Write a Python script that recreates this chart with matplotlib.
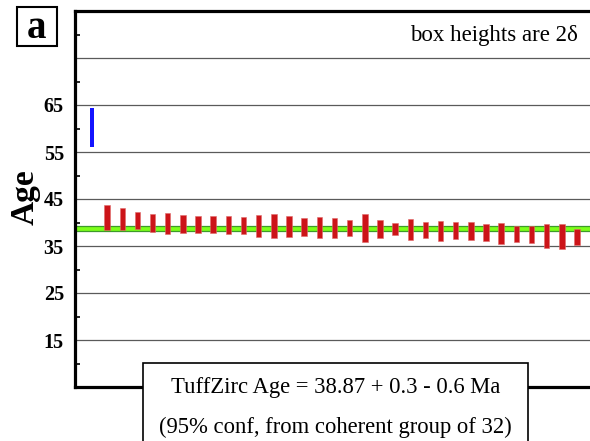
import matplotlib
matplotlib.use("Agg")
import matplotlib.pyplot as plt
from matplotlib.patches import Rectangle

plt.rcParams["font.family"] = ["Liberation Serif", "DejaVu Serif"]

# grain ages (Ma), box = +/- 1 delta
outlier_low = [56.0]
outlier_high = [64.3]

age_low = [38.5, 38.3, 38.7, 37.9, 37.6, 37.8, 37.7, 37.7, 37.5, 37.5, 37.0, 36.6,
           37.0, 37.2, 36.8, 36.8, 37.2, 35.8, 36.8, 37.4, 36.3, 36.6, 36.1, 36.4,
           36.2, 36.0, 35.4, 35.8, 35.6, 34.6, 34.4, 35.3]
age_high = [43.8, 43.0, 42.3, 41.8, 42.0, 41.5, 41.4, 41.4, 41.3, 41.2, 41.5, 41.8,
            41.3, 41.0, 41.1, 41.05, 40.6, 41.8, 40.5, 39.9, 40.8, 40.1, 40.4, 40.2,
            40.1, 39.6, 40.0, 39.2, 39.2, 39.6, 39.6, 38.7]

tuff_age = 38.87
err_plus = 0.3
err_minus = 0.6

major_ticks = [15, 25, 35, 45, 55, 65, 75]
major_labels = ["15", "25", "35", "45", "55", "65", ""]
minor_ticks = [10, 20, 30, 40, 50, 60, 70, 80]

fig = plt.figure(figsize=(5.9, 4.41), dpi=100)
ax = fig.add_axes([75 / 590, 1 - 387 / 441, 1 - 75 / 590 + 0.01, (387 - 11) / 441])

ax.axhspan(tuff_age - err_minus, tuff_age + err_plus, facecolor="#7dff1a",
           edgecolor="#3d9a2a", lw=0.9, zorder=2)

x_out = [1]
ax.bar(x_out, [h - l for l, h in zip(outlier_low, outlier_high)], bottom=outlier_low,
       width=0.24, color="#1414ff", zorder=3)

x_red = list(range(2, 2 + len(age_low)))
ax.bar(x_red, [h - l for l, h in zip(age_low, age_high)], bottom=age_low,
       width=0.36, color="#cc1418", edgecolor="#e06a6a", lw=0.4, zorder=3)

ax.set_xlim(-0.12, 34.25)
ax.set_ylim(5, 85)
ax.set_xticks([])

ax.set_yticks(major_ticks)
ax.set_yticklabels(major_labels, fontsize=14.5, fontweight="bold")
ax.set_yticks(minor_ticks, minor=True)
ax.tick_params(axis="y", which="major", length=0, pad=8)
ax.tick_params(axis="y", which="minor", direction="in", length=3.5, width=1.2)
ax.yaxis.grid(True, which="major", color="#5a5a5a", lw=0.9)
ax.set_axisbelow(True)

for side in ("left", "top", "bottom"):
    ax.spines[side].set_linewidth(2.3)
ax.spines["right"].set_visible(False)

ax.set_ylabel("Age", fontsize=24, fontweight="bold")
ax.yaxis.set_label_coords(-0.066, 0.505)

ax.text(0.965, 0.935, "box heights are 2\u03b4", transform=ax.transAxes,
        ha="right", va="center", fontsize=16.5)

# panel letter
fig.patches.append(Rectangle((17 / 590, 1 - 46 / 441), 40 / 590, 39 / 441,
                             transform=fig.transFigure, facecolor="white",
                             edgecolor="black", lw=1.5, zorder=5))
fig.text(37 / 590, 1 - 29 / 441, "a", ha="center", va="center", fontsize=28,
         fontweight="bold", zorder=6)

# result box overlapping the bottom of the axes
box = Rectangle((143 / 590, -0.05), (528 - 143) / 590, 0.05 + 1 - 363 / 441,
                transform=fig.transFigure, facecolor="white", edgecolor="black",
                lw=1.2, zorder=5, clip_on=False)
fig.patches.append(box)
cx = (143 + 528) / 2 / 590
fig.text(cx, 1 - 388 / 441,
         f"TuffZirc Age = {tuff_age} + {err_plus} - {err_minus} Ma",
         ha="center", va="center", fontsize=16.3, zorder=6)
fig.text(cx, 1 - 427 / 441, f"(95% conf, from coherent group of {len(age_low)})",
         ha="center", va="center", fontsize=16.3, zorder=6)

fig.savefig("out.png", dpi=100)
